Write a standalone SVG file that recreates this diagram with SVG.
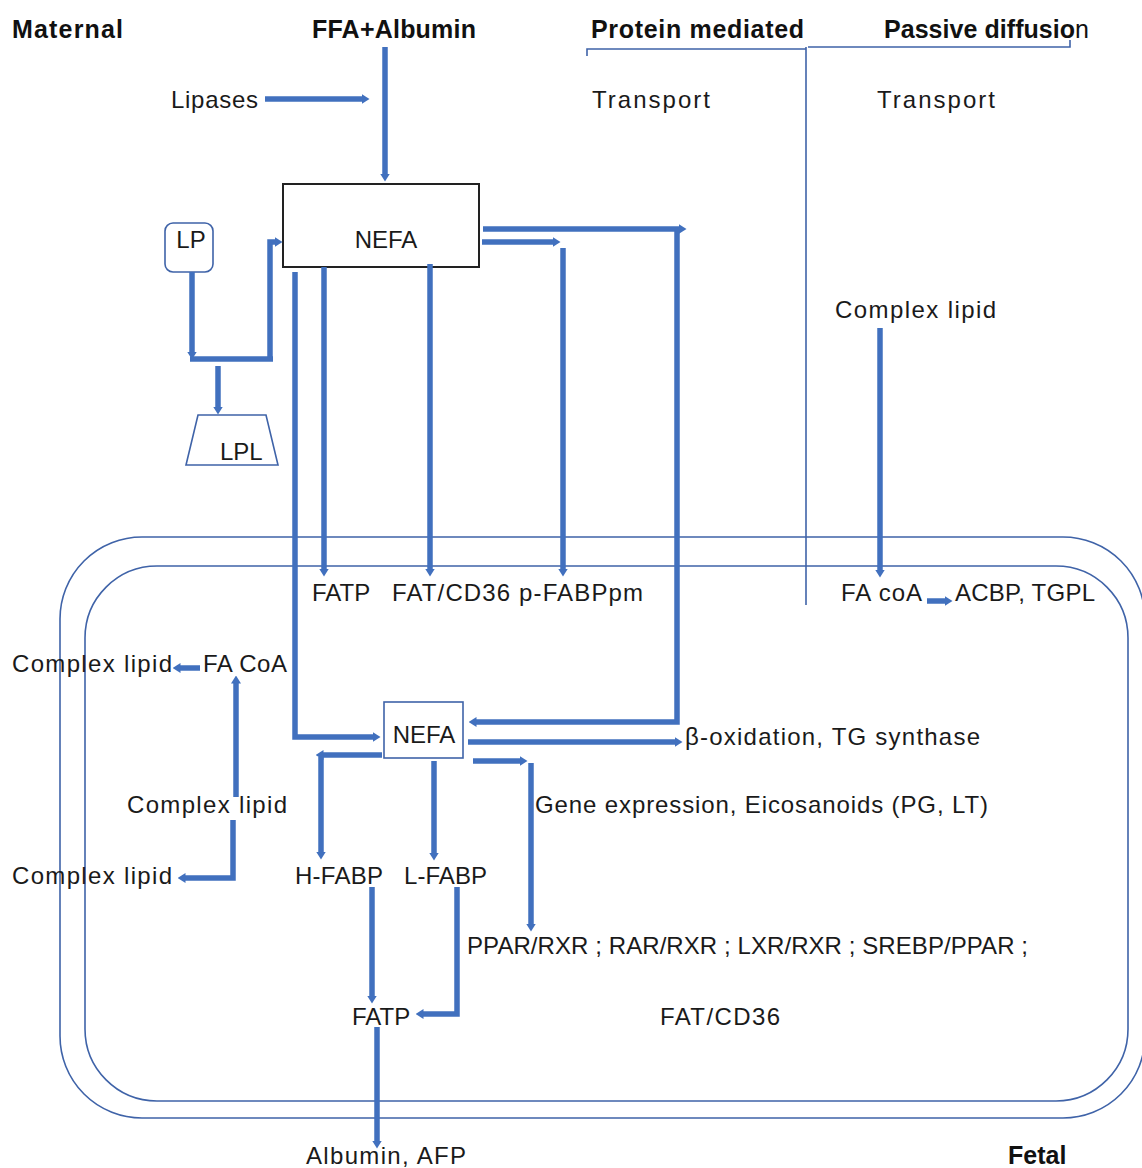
<svg xmlns="http://www.w3.org/2000/svg" width="1142" height="1168" viewBox="0 0 1142 1168">
<style>
.t{font-family:"Liberation Sans",Arial,sans-serif;font-size:24px;fill:#1a1a1a}
.b{font-family:"Liberation Sans",Arial,sans-serif;font-size:25px;font-weight:bold;fill:#111}
.c{fill:none;stroke:#4170BE;stroke-width:5.5;marker-end:url(#ah)}
.p{fill:none;stroke:#4170BE;stroke-width:5.5}
.thin{fill:none;stroke:#3F63A8;stroke-width:1.6}
</style>
<defs>
<marker id="ah" viewBox="0 0 8 10" markerWidth="8" markerHeight="10" refX="0.5" refY="5" orient="auto" markerUnits="userSpaceOnUse">
<path d="M0,0 L8,5 L0,10 z" fill="#4170BE"/>
</marker>
</defs>
<rect width="1142" height="1168" fill="#fff"/>

<g id="membrane">
<rect class="thin" x="60" y="537" width="1085" height="581" rx="82" ry="82"/>
<rect class="thin" x="85" y="566" width="1043" height="535" rx="72" ry="72"/>
</g>

<g id="headers">
<text class="b" x="12" y="38" textLength="111" lengthAdjust="spacing">Maternal</text>
<text class="b" x="312" y="38" textLength="164" lengthAdjust="spacing">FFA+Albumin</text>
<text class="b" x="591" y="38" textLength="213" lengthAdjust="spacing">Protein mediated</text>
<text class="b" x="884" y="38" textLength="205" lengthAdjust="spacing">Passive diffusio<tspan font-weight="normal">n</tspan></text>
<path class="thin" stroke-width="2.5" d="M587,56 V49 H806 M808,47 H1070 V40"/>
<path class="thin" d="M806,47 V605"/>
<text class="t" x="592" y="108" textLength="118" lengthAdjust="spacing">Transport</text>
<text class="t" x="877" y="108" textLength="118" lengthAdjust="spacing">Transport</text>
<text class="b" x="1008" y="1164">Fetal</text>
</g>

<g id="lipases"><text class="t" x="171" y="108" textLength="87" lengthAdjust="spacing">Lipases</text></g>

<g id="nefa-top">
<rect x="283" y="184" width="196" height="83" fill="#fff" stroke="#222" stroke-width="2"/>
<text class="t" x="386" y="248" text-anchor="middle">NEFA</text>
</g>

<g id="lp">
<rect x="165" y="223" width="48" height="49" rx="8" fill="#fff" stroke="#3F63A8" stroke-width="1.6"/>
<text class="t" x="191" y="248" text-anchor="middle">LP</text>
</g>

<g id="lpl">
<path d="M198,415 H266 L278,465 H186 Z" fill="#fff" stroke="#3F63A8" stroke-width="1.6"/>
<text class="t" x="220" y="460">LPL</text>
</g>

<g id="membrane-labels">
<text class="t" x="312" y="601">FATP</text>
<text class="t" x="392" y="601" textLength="251" lengthAdjust="spacing">FAT/CD36 p-FABPpm</text>
<text class="t" x="835" y="318" textLength="161" lengthAdjust="spacing">Complex lipid</text>
<text class="t" x="841" y="601" textLength="81" lengthAdjust="spacing">FA coA</text>
<text class="t" x="955" y="601" textLength="140" lengthAdjust="spacing">ACBP, TGPL</text>
</g>

<g id="left-lipids">
<text class="t" x="12" y="672" textLength="160" lengthAdjust="spacing">Complex lipid</text>
<text class="t" x="203" y="672" textLength="84" lengthAdjust="spacing">FA CoA</text>
<text class="t" x="127" y="813" textLength="160" lengthAdjust="spacing">Complex lipid</text>
<text class="t" x="12" y="884" textLength="160" lengthAdjust="spacing">Complex lipid</text>
</g>

<g id="nefa-fetal">
<rect x="384" y="702" width="79" height="56" fill="#fff" stroke="#3F63A8" stroke-width="1.6"/>
<text class="t" x="424" y="743" text-anchor="middle">NEFA</text>
</g>

<g id="outputs">
<text class="t" x="685" y="745" textLength="295" lengthAdjust="spacing">β-oxidation, TG synthase</text>
<text class="t" x="535" y="813" textLength="453" lengthAdjust="spacing">Gene expression, Eicosanoids (PG, LT)</text>
<text class="t" x="467" y="954" textLength="561" lengthAdjust="spacing">PPAR/RXR ; RAR/RXR ; LXR/RXR ; SREBP/PPAR ;</text>
<text class="t" x="660" y="1025" textLength="120" lengthAdjust="spacing">FAT/CD36</text>
</g>

<g id="fabp">
<text class="t" x="295" y="884" textLength="88" lengthAdjust="spacing">H-FABP</text>
<text class="t" x="404" y="884" textLength="83" lengthAdjust="spacing">L-FABP</text>
<text class="t" x="352" y="1025">FATP</text>
<text class="t" x="306" y="1164" textLength="160" lengthAdjust="spacing">Albumin, AFP</text>
</g>

<g id="connectors">
<path class="c" d="M265,99 H362"/>
<path class="c" d="M385,47 V174"/>
<path class="c" d="M192,272 V352"/>
<path class="p" d="M190,359 H273"/>
<path class="c" d="M270,361 V242 H275"/>
<path class="c" d="M218,366 V407"/>
<path class="c" d="M295,272 V737 H373"/>
<path class="c" d="M324,267 V569"/>
<path class="c" d="M430,264 V569"/>
<path class="c" d="M483,229 H679"/>
<path class="c" d="M677,229 V722 H476"/>
<path class="c" d="M482,242 H553"/>
<path class="c" d="M563,248 V569"/>
<path class="c" d="M880,328 V570"/>
<path class="c" d="M927,601 H945"/>
<path class="c" d="M200,668 H180"/>
<path class="c" d="M236,797 V683"/>
<path class="c" d="M233,820 V878 H185"/>
<path class="c" d="M468,742 H675"/>
<path class="c" d="M473,761 H520"/>
<path class="c" d="M531,763 V924"/>
<path class="c" d="M382,755 H323"/>
<path class="c" d="M321,757 V852"/>
<path class="c" d="M434,761 V853"/>
<path class="c" d="M372,887 V996"/>
<path class="c" d="M457,887 V1014 H423"/>
<path class="c" d="M377,1027 V1141"/>
</g>
</svg>
